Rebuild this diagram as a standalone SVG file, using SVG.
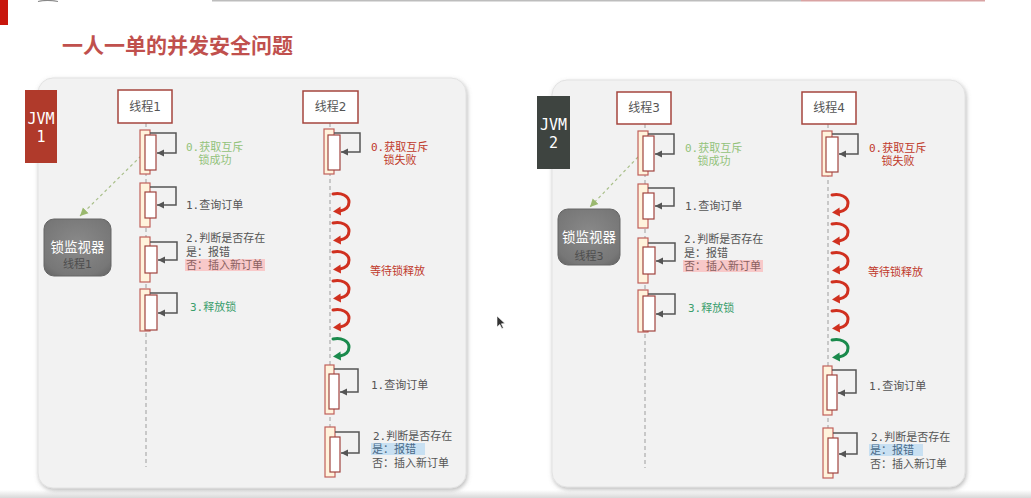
<svg xmlns="http://www.w3.org/2000/svg" xmlns:xlink="http://www.w3.org/1999/xlink" width="1031" height="498" viewBox="0 0 1031 498">
<style>
.cjk{font-family:"DejaVu Sans Mono","Noto Sans CJK SC",monospace;font-size:11px}
.title{font-family:"Noto Sans CJK SC",sans-serif;font-size:21px;font-weight:bold;fill:#c0504d}
.panel{fill:#f2f2f2;stroke:#e2e2e2;stroke-width:1}
.tbox{fill:#fff;stroke:#a5453e;stroke-width:1.5}
.tname{font-family:"DejaVu Sans","Noto Sans CJK SC",sans-serif;font-size:12px;fill:#555;text-anchor:middle}
.life{stroke:#bbb;stroke-width:1.5;stroke-dasharray:4 3;fill:none}
.outer{fill:#fff3dc;stroke:#c0605a;stroke-width:1.2}
.inner{fill:#fff;stroke:#a0443e;stroke-width:1.2}
.loop{fill:none;stroke:#555;stroke-width:1.5;marker-end:url(#ah)}
.gray{fill:#555}
.green{fill:#93c27a}
.dgreen{fill:#3a9e6c}
.red{fill:#c0392b}
.jvm{font-family:"DejaVu Sans Mono",monospace;font-size:15px;fill:#fff;text-anchor:middle}
.mon{fill:url(#mg);stroke:#666;stroke-width:1}
.monT{font-family:"Noto Sans CJK SC",sans-serif;font-size:13.5px;fill:#fff;text-anchor:middle}
.monS{font-family:"DejaVu Sans","Noto Sans CJK SC",sans-serif;font-size:11px;fill:#4e4e4e;text-anchor:middle}
.dash{fill:none;stroke:#a9bf8a;stroke-width:1.2;stroke-dasharray:3 3;marker-end:url(#gh)}
</style>
<defs>
<marker id="ah" markerWidth="8" markerHeight="8" refX="7" refY="4" orient="auto" markerUnits="userSpaceOnUse"><path d="M0,0.5 L7,4 L0,7.5 z" fill="#555"/></marker>
<marker id="gh" markerWidth="9" markerHeight="9" refX="8" refY="4.5" orient="auto" markerUnits="userSpaceOnUse"><path d="M0,0.5 L8,4.5 L0,8.5 z" fill="#9ab86e"/></marker>
<radialGradient id="mg" cx="0.5" cy="0.45" r="0.7"><stop offset="0" stop-color="#8a8a8a"/><stop offset="0.8" stop-color="#777"/><stop offset="1" stop-color="#666"/></radialGradient>
<linearGradient id="bg" x1="0" y1="0" x2="0" y2="1"><stop offset="0" stop-color="#ffffff"/><stop offset="1" stop-color="#d8d8d8"/></linearGradient>
<filter id="sh" x="-5%" y="-5%" width="110%" height="110%"><feDropShadow dx="1" dy="2" stdDeviation="2" flood-color="#777" flood-opacity="0.5"/></filter>
<g id="curl"><path d="M0,1 C8,-1 16,3 16,9 C16,14 12,17 7,18" fill="none" stroke="currentColor" stroke-width="3" stroke-linecap="round"/><polygon points="0,18.5 7.5,13.5 8,22.5" fill="currentColor"/></g>
</defs>

<rect width="1031" height="498" fill="#fff"/>
<rect x="0" y="490" width="1031" height="8" fill="url(#bg)"/>
<rect x="0" y="0" width="8" height="25" fill="#c8160c"/>
<rect x="212" y="0" width="589" height="1.5" fill="#bdbdbd"/>
<rect x="801" y="0" width="184" height="1.5" fill="#d9a3a3"/>
<path d="M38,1.5 Q47,-0.5 58,1.5" fill="none" stroke="#888" stroke-width="1.2"/>

<text class="title" x="62" y="53">一人一单的并发安全问题</text>

<g id="panel1"><rect class="panel" x="38" y="78" width="428" height="410" rx="15" filter="url(#sh)"/></g>
<g id="panel2"><rect class="panel" x="552" y="80" width="413" height="407" rx="15" filter="url(#sh)"/></g>

<g id="connectors">
<line class="life" x1="146" y1="123" x2="146" y2="467"/>
<line class="life" x1="330" y1="123" x2="330" y2="480"/>
<line class="life" x1="645" y1="124" x2="645" y2="468"/>
<line class="life" x1="828" y1="124" x2="828" y2="481"/>
<path class="dash" d="M141,156 L80,216"/>
<path class="dash" d="M638,157 L590,207"/>
</g>

<g id="jvm1"><rect x="25" y="90" width="32" height="73" fill="#b03a2b"/><text class="jvm" x="41" y="124">JVM</text><text class="jvm" x="41" y="142">1</text></g>
<g id="jvm2"><rect x="537" y="96" width="33" height="73" fill="#3e4440"/><text class="jvm" x="553.5" y="130">JVM</text><text class="jvm" x="553.5" y="148">2</text></g>

<g id="monitor1"><rect class="mon" x="44" y="219" width="67" height="57" rx="10"/><text class="monT" x="77.5" y="252">锁监视器</text><text class="monS" x="77.5" y="268">线程1</text></g>
<g id="monitor2"><rect class="mon" x="558" y="209" width="62" height="56" rx="10"/><text class="monT" x="589" y="242">锁监视器</text><text class="monS" x="589" y="260">线程3</text></g>

<g id="thread1">
<rect class="tbox" x="118" y="90" width="54" height="33"/><text class="tname" x="145" y="111">线程1</text>
<rect class="outer" x="140" y="130" width="10" height="44"/><rect class="inner" x="145" y="135" width="11" height="35"/><path class="loop" d="M150,133 H176 V153 H157"/>
<text class="cjk green" x="186" y="151">0.获取互斥</text><text class="cjk green" x="215" y="164" text-anchor="middle">锁成功</text>
<rect class="outer" x="140" y="183" width="10" height="44"/><rect class="inner" x="145" y="192" width="11" height="26"/><path class="loop" d="M150,187 H176 V205 H157"/>
<text class="cjk gray" x="186" y="209">1.查询订单</text>
<rect class="outer" x="140" y="237" width="10" height="45"/><rect class="inner" x="145" y="246" width="12" height="27"/><path class="loop" d="M150,242 H177 V260 H158"/>
<rect x="185" y="259" width="80" height="12" fill="#f8c9c9"/>
<text class="cjk gray" x="186" y="242">2.判断是否存在</text><text class="cjk gray" x="186" y="256">是：报错</text><text class="cjk" x="186" y="269" fill="#8a6060">否：插入新订单</text>
<rect class="outer" x="140" y="289" width="10" height="42"/><rect class="inner" x="145" y="295" width="12" height="35"/><path class="loop" d="M150,293 H177 V313 H158"/>
<text class="cjk dgreen" x="190" y="311">3.释放锁</text>
</g>

<g id="thread2">
<rect class="tbox" x="303" y="91" width="55" height="32"/><text class="tname" x="330.5" y="111">线程2</text>
<rect class="outer" x="324" y="129" width="10" height="45"/><rect class="inner" x="328" y="135" width="12" height="35"/><path class="loop" d="M334,133 H360 V152 H341"/>
<text class="cjk red" x="371" y="151">0.获取互斥</text><text class="cjk red" x="400" y="164" text-anchor="middle">锁失败</text>
<use xlink:href="#curl" x="333" y="193" color="#d0301f"/>
<use xlink:href="#curl" x="333" y="222" color="#d0301f"/>
<use xlink:href="#curl" x="333" y="251" color="#d0301f"/>
<use xlink:href="#curl" x="333" y="280" color="#d0301f"/>
<use xlink:href="#curl" x="333" y="309" color="#d0301f"/>
<use xlink:href="#curl" x="333" y="338" color="#1a8a4c"/>
<text class="cjk red" x="370" y="275">等待锁释放</text>
<rect class="outer" x="325" y="365" width="9" height="49"/><rect class="inner" x="329" y="374" width="10" height="35"/><path class="loop" d="M334,369 H358 V392 H340"/>
<text class="cjk gray" x="371" y="389">1.查询订单</text>
<rect class="outer" x="325" y="427" width="10" height="50"/><rect class="inner" x="330" y="437" width="10" height="35"/><path class="loop" d="M335,432 H359 V453 H341"/>
<rect x="371" y="443" width="54" height="12" fill="#c8e0f2"/>
<text class="cjk gray" x="373" y="440">2.判断是否存在</text><text class="cjk" x="372" y="453" fill="#4a6a88">是：报错</text><text class="cjk gray" x="372" y="467">否：插入新订单</text>
</g>

<g id="thread3">
<rect class="tbox" x="617" y="92" width="54" height="32"/><text class="tname" x="644" y="112">线程3</text>
<rect class="outer" x="638" y="131" width="10" height="44"/><rect class="inner" x="643" y="136" width="11" height="35"/><path class="loop" d="M648,134 H674 V154 H655"/>
<text class="cjk green" x="685" y="152">0.获取互斥</text><text class="cjk green" x="714" y="165" text-anchor="middle">锁成功</text>
<rect class="outer" x="638" y="184" width="10" height="44"/><rect class="inner" x="643" y="193" width="11" height="26"/><path class="loop" d="M648,188 H674 V206 H655"/>
<text class="cjk gray" x="685" y="210">1.查询订单</text>
<rect class="outer" x="638" y="238" width="10" height="45"/><rect class="inner" x="643" y="247" width="12" height="27"/><path class="loop" d="M648,243 H675 V261 H656"/>
<rect x="683" y="260" width="80" height="12" fill="#f8c9c9"/>
<text class="cjk gray" x="684" y="243">2.判断是否存在</text><text class="cjk gray" x="684" y="257">是：报错</text><text class="cjk" x="684" y="270" fill="#8a6060">否：插入新订单</text>
<rect class="outer" x="638" y="290" width="10" height="42"/><rect class="inner" x="643" y="296" width="12" height="35"/><path class="loop" d="M648,294 H675 V314 H656"/>
<text class="cjk dgreen" x="688" y="312">3.释放锁</text>
</g>

<g id="thread4">
<rect class="tbox" x="802" y="92" width="54" height="32"/><text class="tname" x="829" y="112">线程4</text>
<rect class="outer" x="822" y="131" width="10" height="45"/><rect class="inner" x="826" y="137" width="12" height="35"/><path class="loop" d="M832,134 H858 V154 H839"/>
<text class="cjk red" x="869" y="152">0.获取互斥</text><text class="cjk red" x="898" y="165" text-anchor="middle">锁失败</text>
<use xlink:href="#curl" x="832" y="194" color="#d0301f"/>
<use xlink:href="#curl" x="832" y="223" color="#d0301f"/>
<use xlink:href="#curl" x="832" y="252" color="#d0301f"/>
<use xlink:href="#curl" x="832" y="281" color="#d0301f"/>
<use xlink:href="#curl" x="832" y="310" color="#d0301f"/>
<use xlink:href="#curl" x="832" y="339" color="#1a8a4c"/>
<text class="cjk red" x="868" y="276">等待锁释放</text>
<rect class="outer" x="823" y="366" width="9" height="49"/><rect class="inner" x="827" y="375" width="10" height="35"/><path class="loop" d="M832,370 H856 V393 H838"/>
<text class="cjk gray" x="869" y="390">1.查询订单</text>
<rect class="outer" x="823" y="428" width="10" height="50"/><rect class="inner" x="828" y="438" width="10" height="35"/><path class="loop" d="M833,433 H857 V454 H839"/>
<rect x="869" y="444" width="54" height="12" fill="#c8e0f2"/>
<text class="cjk gray" x="871" y="441">2.判断是否存在</text><text class="cjk" x="870" y="454" fill="#4a6a88">是：报错</text><text class="cjk gray" x="870" y="468">否：插入新订单</text>
</g>

<path d="M497,316 L497,327 L499.8,324.4 L501.8,328.6 L503.4,327.9 L501.4,323.8 L505,323.6 Z" fill="#333" stroke="#fff" stroke-width="0.6"/>
</svg>
